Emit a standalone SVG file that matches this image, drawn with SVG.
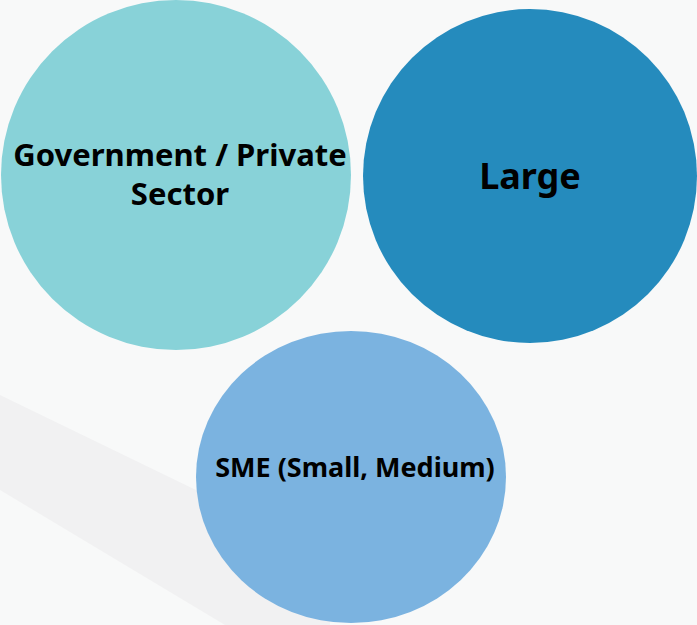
<svg xmlns="http://www.w3.org/2000/svg" width="697" height="625" viewBox="0 0 697 625">
<style>
.lbl{font-family:"Noto Sans","Open Sans","Liberation Sans",sans-serif;font-weight:bold;fill:#000;text-anchor:middle}
</style>
<rect width="697" height="625" fill="#f8f9f9"/>
<path d="M0 395 L330 555 L330 625 L225 625 L0 490 Z" fill="#f1f1f2"/>
<g id="gov">
<ellipse cx="176" cy="175" rx="175" ry="175" fill="#88d2d8"/>
<text class="lbl" x="180" y="166" font-size="31">Government / Private</text>
<text class="lbl" x="180" y="205" font-size="31">Sector</text>
</g>
<g id="large">
<ellipse cx="530" cy="176" rx="167" ry="167" fill="#258bbd"/>
<text class="lbl" x="530" y="189" font-size="36">Large</text>
</g>
<g id="sme">
<ellipse cx="351" cy="477" rx="155" ry="146" fill="#7bb3e0"/>
<text class="lbl" x="355" y="477" font-size="27">SME (Small, Medium)</text>
</g>
<g id="connectors"/>
</svg>
